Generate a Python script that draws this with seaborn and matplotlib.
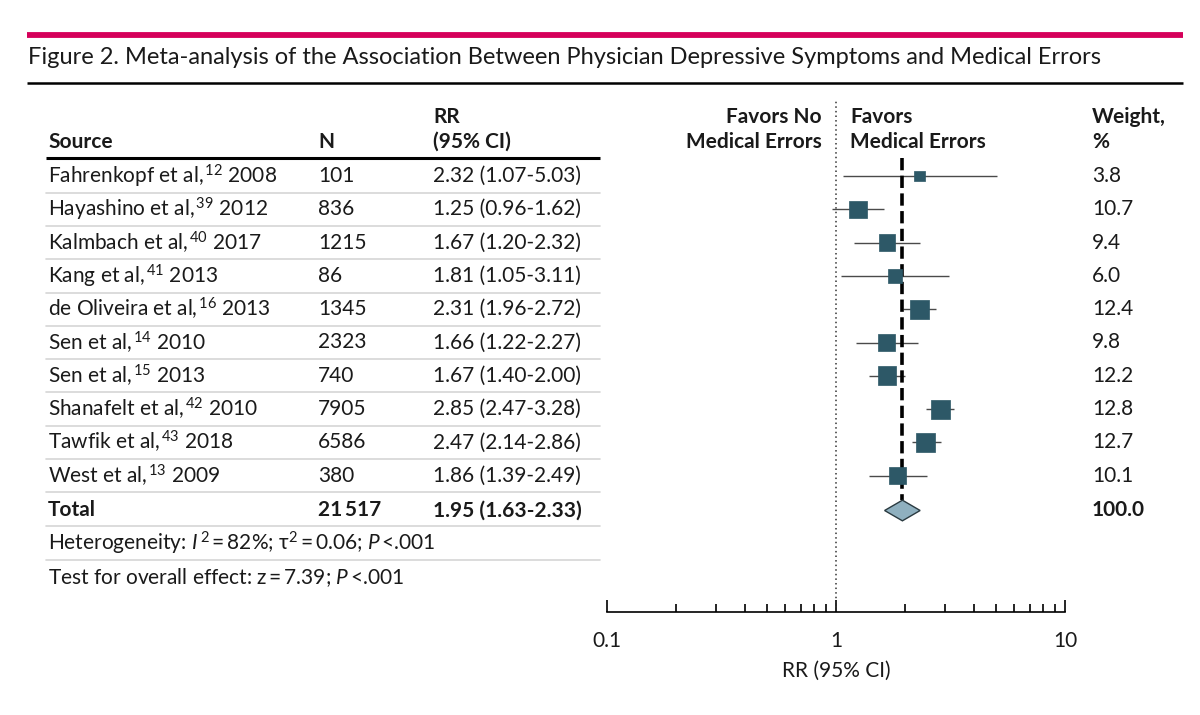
import numpy as np
import pandas as pd
import matplotlib
matplotlib.use("Agg")
import matplotlib.pyplot as plt
import seaborn as sns

# ---------------- data ----------------
authors = ["Fahrenkopf et al,", "Hayashino et al,", "Kalmbach et al,", "Kang et al,",
           "de Oliveira et al,", "Sen et al,", "Sen et al,", "Shanafelt et al,",
           "Tawfik et al,", "West et al,"]
refs = ["12", "39", "40", "41", "16", "14", "15", "42", "43", "13"]
years = ["2008", "2012", "2017", "2013", "2013", "2010", "2013", "2010", "2018", "2009"]
n_vals = ["101", "836", "1215", "86", "1345", "2323", "740", "7905", "6586", "380"]
rr = [2.32, 1.25, 1.67, 1.81, 2.31, 1.66, 1.67, 2.85, 2.47, 1.86]
ci_low = [1.07, 0.96, 1.20, 1.05, 1.96, 1.22, 1.40, 2.47, 2.14, 1.39]
ci_high = [5.03, 1.62, 2.32, 3.11, 2.72, 2.27, 2.00, 3.28, 2.86, 2.49]
weights = [3.8, 10.7, 9.4, 6.0, 12.4, 9.8, 12.2, 12.8, 12.7, 10.1]
total_n = "21\u2009517"
total_rr, total_lo, total_hi = 1.95, 1.63, 2.33
total_weight = "100.0"
x_ticks = [0.1, 1, 10]
x_tick_labels = ["0.1", "1", "10"]

# ---------------- style ----------------
sns.set_theme(style="white")
FONT = ["Lato", "DejaVu Sans"]
plt.rcParams["font.family"] = FONT
plt.rcParams["mathtext.fontset"] = "custom"
plt.rcParams["mathtext.rm"] = "Lato"
plt.rcParams["mathtext.it"] = "Lato:italic"
plt.rcParams["mathtext.bf"] = "Lato:bold"

W, H = 1200, 715
fig = plt.figure(figsize=(12, 7.15), dpi=100)
fig.patch.set_facecolor("white")

# background overlay axes in pixel coordinates for table layout
bg = fig.add_axes([0, 0, 1, 1])
bg.set_xlim(0, W)
bg.set_ylim(H, 0)
bg.axis("off")

FS = 15
TXT = "#1a1a1a"

# title block
bg.plot([27, 1183], [34.5, 34.5], color="#d5005a", lw=4.2, solid_capstyle="butt")
bg.text(28, 58, "Figure 2. Meta-analysis of the Association Between Physician Depressive Symptoms and Medical Errors",
        fontsize=17, color=TXT, va="center", ha="left")
bg.plot([27, 1183], [82.5, 82.5], color="black", lw=1.8, solid_capstyle="butt")

# headers
y_h1, y_h2 = 117, 142
bg.text(48, y_h2, "Source", fontsize=FS, color=TXT, va="center", fontweight="bold")
bg.text(318, y_h2, "N", fontsize=FS, color=TXT, va="center", fontweight="bold")
bg.text(433, y_h1, "RR", fontsize=FS, color=TXT, va="center", fontweight="bold")
bg.text(433, y_h2, "(95% CI)", fontsize=FS, color=TXT, va="center", fontweight="bold")
bg.text(822, y_h1, "Favors No", fontsize=FS, color=TXT, va="center", ha="right", fontweight="bold")
bg.text(822, y_h2, "Medical Errors", fontsize=FS, color=TXT, va="center", ha="right", fontweight="bold")
bg.text(850, y_h1, "Favors", fontsize=FS, color=TXT, va="center", ha="left", fontweight="bold")
bg.text(850, y_h2, "Medical Errors", fontsize=FS, color=TXT, va="center", ha="left", fontweight="bold")
bg.text(1092, y_h1, "Weight,", fontsize=FS, color=TXT, va="center", ha="left", fontweight="bold")
bg.text(1092, y_h2, "%", fontsize=FS, color=TXT, va="center", ha="left", fontweight="bold")
bg.plot([46, 600], [158, 158], color="black", lw=2.2, solid_capstyle="butt")

row0, dy = 176.0, 33.3
n_rows = len(authors)
for i in range(n_rows):
    y = row0 + i * dy
    src = f"{authors[i]}$^{{\\,\\mathrm{{{refs[i]}}}}}$ {years[i]}"
    bg.text(48, y, src, fontsize=FS, color=TXT, va="center", ha="left")
    bg.text(318, y, n_vals[i], fontsize=FS, color=TXT, va="center", ha="left")
    bg.text(433, y, f"{rr[i]:.2f} ({ci_low[i]:.2f}-{ci_high[i]:.2f})", fontsize=FS, color=TXT,
            va="center", ha="left")
    bg.text(1092, y, f"{weights[i]:.1f}", fontsize=FS, color=TXT, va="center", ha="left")
    bg.plot([46, 600], [y + dy / 2, y + dy / 2], color="#d6d6d6", lw=1.2)

y_tot = row0 + n_rows * dy + 1.5
bg.text(48, y_tot, "Total", fontsize=FS, color=TXT, va="center", fontweight="bold")
bg.text(318, y_tot, total_n, fontsize=FS, color=TXT, va="center", fontweight="bold")
bg.text(433, y_tot, f"{total_rr:.2f} ({total_lo:.2f}-{total_hi:.2f})", fontsize=FS, color=TXT,
        va="center", fontweight="bold")
bg.text(1092, y_tot, total_weight, fontsize=FS, color=TXT, va="center", fontweight="bold")
bg.plot([46, 600], [526, 526], color="#d6d6d6", lw=1.2)
bg.text(48, 543,
        r"Heterogeneity: $I^{\,\mathrm{2}}\,$=$\,$82%; $\mathrm{\tau}^{\mathrm{2}}\,$=$\,$0.06; $P\,$<.001",
        fontsize=FS, color=TXT, va="center")
bg.plot([46, 600], [560, 560], color="#d6d6d6", lw=1.2)
bg.text(48, 578, r"Test for overall effect: z$\,$=$\,$7.39; $P\,$<.001", fontsize=FS, color=TXT,
        va="center")

# ---------------- forest axes ----------------
ax_left, ax_right = 607, 1065
ax_top, ax_bot = 100, 612
ax = fig.add_axes([ax_left / W, 1 - ax_bot / H, (ax_right - ax_left) / W, (ax_bot - ax_top) / H])
ax.set_facecolor("none")
ax.set_xscale("log")
ax.set_xlim(0.1, 10)
ax.set_ylim((ax_bot - row0) / dy, (ax_top - row0) / dy)

df = pd.DataFrame({"row": np.arange(n_rows), "rr": rr, "lo": ci_low, "hi": ci_high, "w": weights})

ax.hlines(df["row"], df["lo"], df["hi"], color="#4a4a4a", lw=1.0, zorder=2)
ax.axvline(1, ymin=0, ymax=1, color="#333333", lw=1.1, ls=(0, (1, 2)), zorder=1)
tot_row = n_rows + 1.5 / dy
ax.vlines(total_rr, (158 - row0) / dy, tot_row - 0.33, color="black", lw=2.6,
          linestyles=(0, (3.4, 1.5)), zorder=3)
sns.scatterplot(data=df, x="rr", y="row", size="w", sizes=(62, 190), marker="s",
                color="#2d5867", edgecolor="#2d5867", linewidth=0.5, legend=False, ax=ax, zorder=4)
ax.fill([total_lo, total_rr, total_hi, total_rr], [tot_row, tot_row - 0.31, tot_row, tot_row + 0.31],
        facecolor="#8fb0bf", edgecolor="#2a3a40", lw=1.0, zorder=5)

for s in ["top", "right", "left"]:
    ax.spines[s].set_visible(False)
ax.spines["bottom"].set_color("black")
ax.spines["bottom"].set_linewidth(1.2)
ax.set_yticks([])
ax.set_xticks(x_ticks)
ax.set_xticklabels(x_tick_labels)
ax.tick_params(axis="x", which="major", direction="in", length=9, width=1.2, color="black",
               labelsize=FS, labelcolor=TXT, pad=14, bottom=True)
ax.tick_params(axis="x", which="minor", direction="in", length=6, width=1.2, color="black", bottom=True)
ax.set_xlabel("RR (95% CI)", fontsize=FS, color=TXT, labelpad=7)
ax.set_ylabel("")

fig.savefig("out.png", dpi=100, facecolor="white")
